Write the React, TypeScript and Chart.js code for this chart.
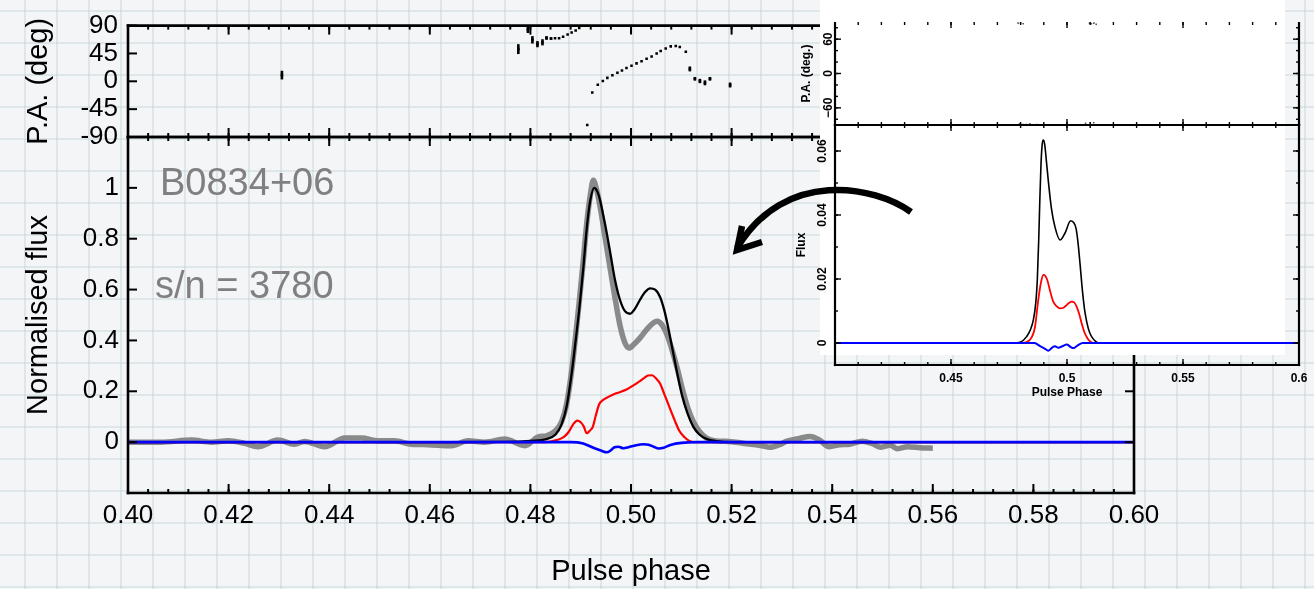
import React, { useEffect, useRef } from "react";
import { Chart, registerables } from "chart.js";

Chart.register(...registerables);

const FONT = '"Liberation Sans", Arial, Helvetica, sans-serif';
const W = 1314;
const H = 589;

// ---------------- main figure: ticks ----------------
const xTicks = [0.4, 0.42, 0.44, 0.46, 0.48, 0.5, 0.52, 0.54, 0.56, 0.58, 0.6];
const xTickLabels = ["0.40", "0.42", "0.44", "0.46", "0.48", "0.50", "0.52", "0.54", "0.56", "0.58", "0.60"];
const fluxTicks = [0, 0.2, 0.4, 0.6, 0.8, 1];
const fluxTickLabels = ["0", "0.2", "0.4", "0.6", "0.8", "1"];
const paTicks = [-90, -45, 0, 45, 90];
const paTickLabels = ["-90", "-45", "0", "45", "90"];

// ---------------- main figure: total intensity (black) ----------------
const iPhase = [0.4, 0.43, 0.46, 0.475, 0.48, 0.4832, 0.485, 0.4862, 0.4872, 0.4882, 0.489, 0.4897, 0.4905, 0.4912, 0.4919, 0.4927, 0.4936, 0.4945, 0.4952, 0.496, 0.4968, 0.4978, 0.4988, 0.4998, 0.5008, 0.5018, 0.5028, 0.5038, 0.5048, 0.5058, 0.5066, 0.5074, 0.5083, 0.5092, 0.5102, 0.5112, 0.5124, 0.5136, 0.515, 0.517, 0.52, 0.56, 0.6];
const iFlux = [0, 0, 0, 0.001, 0.005, 0.012, 0.03, 0.07, 0.14, 0.27, 0.4, 0.52, 0.68, 0.84, 0.95, 1.0, 0.97, 0.89, 0.82, 0.73, 0.64, 0.56, 0.515, 0.505, 0.525, 0.56, 0.59, 0.605, 0.6, 0.57, 0.52, 0.45, 0.36, 0.27, 0.18, 0.115, 0.06, 0.03, 0.013, 0.004, 0, 0, 0];

// ---------------- main figure: second profile (thick grey) ----------------
const gPhase = [0.4, 0.4066, 0.4126, 0.4166, 0.4199, 0.4232, 0.4258, 0.4298, 0.4331, 0.4351, 0.4391, 0.4431, 0.4464, 0.4497, 0.453, 0.4563, 0.4596, 0.4643, 0.4676, 0.4709, 0.4749, 0.4789, 0.4815, 0.4832, 0.485, 0.4862, 0.4872, 0.4882, 0.489, 0.4897, 0.4905, 0.4912, 0.4919, 0.4925, 0.4932, 0.494, 0.4948, 0.4958, 0.4968, 0.4978, 0.4988, 0.4996, 0.5006, 0.5018, 0.503, 0.5042, 0.5052, 0.5062, 0.5072, 0.5082, 0.5092, 0.5102, 0.5112, 0.5124, 0.5136, 0.515, 0.5165, 0.52, 0.523, 0.526, 0.5276, 0.5295, 0.531, 0.5335, 0.5356, 0.5375, 0.5394, 0.5415, 0.5435, 0.546, 0.548, 0.5497, 0.5515, 0.553, 0.555, 0.5575, 0.56];
const gFlux = [0, 0, 0.008, 0, 0.005, -0.005, -0.018, 0.008, -0.008, 0.003, -0.018, 0.016, 0.016, 0.005, 0.005, -0.008, -0.01, -0.014, 0.005, 0, 0.012, -0.014, 0.02, 0.025, 0.045, 0.08, 0.15, 0.28, 0.42, 0.55, 0.71, 0.86, 0.97, 1.03, 0.99, 0.91, 0.81, 0.69, 0.57, 0.46, 0.39, 0.37, 0.385, 0.41, 0.44, 0.465, 0.475, 0.46, 0.42, 0.36, 0.29, 0.21, 0.14, 0.08, 0.042, 0.016, 0.006, 0.002, -0.006, -0.014, -0.02, -0.01, 0.004, 0.015, 0.022, 0.008, -0.018, -0.01, -0.008, 0.004, -0.006, -0.02, -0.012, -0.026, -0.018, -0.022, -0.024];

// ---------------- main figure: linear polarisation (red) ----------------
const lPhase = [0.4, 0.45, 0.483, 0.4852, 0.4866, 0.4876, 0.4885, 0.4893, 0.49, 0.4906, 0.4912, 0.4918, 0.4924, 0.493, 0.4937, 0.4944, 0.4955, 0.4968, 0.498, 0.4992, 0.5004, 0.5016, 0.5026, 0.5034, 0.5042, 0.505, 0.5058, 0.5066, 0.5076, 0.5086, 0.5096, 0.5106, 0.5115, 0.5125, 0.55, 0.6];
const lFlux = [0, 0, 0, 0.008, 0.02, 0.04, 0.07, 0.085, 0.078, 0.062, 0.035, 0.045, 0.06, 0.105, 0.15, 0.165, 0.178, 0.19, 0.198, 0.208, 0.222, 0.238, 0.252, 0.262, 0.263, 0.25, 0.23, 0.19, 0.14, 0.09, 0.045, 0.02, 0.006, 0, 0, 0];

// ---------------- main figure: circular polarisation (blue) ----------------
const vPhase = [0.4, 0.45, 0.488, 0.4905, 0.4925, 0.494, 0.4952, 0.496, 0.4967, 0.4975, 0.4985, 0.4995, 0.501, 0.5025, 0.5035, 0.5045, 0.5055, 0.5065, 0.508, 0.51, 0.513, 0.55, 0.6];
const vFlux = [0, 0, 0, -0.005, -0.022, -0.033, -0.04, -0.032, -0.02, -0.018, -0.024, -0.02, -0.012, -0.008, -0.01, -0.018, -0.025, -0.022, -0.01, -0.003, 0, 0, 0];

// ---------------- main figure: position angle ----------------
const paPhase = [0.4306, 0.4776, 0.4795, 0.4804, 0.4814, 0.4824, 0.4832, 0.4841, 0.4849, 0.4857, 0.4865, 0.4874, 0.4882, 0.489, 0.4897, 0.4913, 0.4923, 0.4934, 0.4944, 0.4953, 0.4963, 0.4973, 0.4982, 0.4991, 0.5001, 0.5011, 0.5021, 0.5031, 0.5041, 0.5051, 0.5059, 0.5069, 0.5079, 0.5089, 0.5097, 0.5109, 0.5117, 0.5127, 0.5137, 0.5147, 0.5157, 0.5197];
const paDeg = [10, 52, 84, 67, 60, 63, 70, 69, 69.5, 69.5, 72, 75.5, 79, 82, 86, -70.5, -18, -5.5, 0.5, 5.5, 9.7, 13.7, 17.3, 21.4, 25, 29, 32.5, 36.6, 40, 45, 49, 53, 56.4, 57, 55.5, 47.8, 20, 4, 0.5, -2.5, 4, -6];
const paErr = [7, 8, 6, 6, 5, 5, 3, 2, 0, 0, 0, 0, 0, 0, 0, 0, 0, 0, 0, 0, 0, 0, 0, 0, 0, 0, 0, 0, 0, 0, 0, 0, 0, 0, 0, 0, 4, 3, 3.5, 4, 3, 4];

// ---------------- inset: ticks ----------------
const insetXTicks = [0.45, 0.5, 0.55, 0.6];
const insetXTickLabels = ["0.45", "0.5", "0.55", "0.6"];
const insetXMajor = [0.4, 0.45, 0.5, 0.55, 0.6];
const insetFluxTicks = [0, 0.02, 0.04, 0.06];
const insetFluxTickLabels = ["0", "0.02", "0.04", "0.06"];
const insetPaTicks = [-60, 0, 60];
const insetPaTickLabels = ["\u221260", "0", "60"];

// ---------------- inset: profiles ----------------
const insetPhaseI = [0.4, 0.47, 0.4769, 0.4826, 0.4855, 0.4866, 0.4872, 0.4878, 0.4883, 0.4888, 0.4893, 0.4898, 0.4904, 0.4911, 0.4919, 0.4933, 0.4948, 0.497, 0.4991, 0.5016, 0.503, 0.5039, 0.5048, 0.5056, 0.5067, 0.5078, 0.5092, 0.5106, 0.5142, 0.55, 0.6];
const insetI = [0, 0, 0, 0.002, 0.0072, 0.013, 0.0197, 0.032, 0.045, 0.056, 0.062, 0.0634, 0.062, 0.057, 0.051, 0.042, 0.0363, 0.0322, 0.0343, 0.0382, 0.0375, 0.0358, 0.031, 0.0249, 0.016, 0.0093, 0.0045, 0.002, 0, 0, 0];
const insetPhaseL = [0.4, 0.48, 0.484, 0.4862, 0.4876, 0.4888, 0.4898, 0.4906, 0.4915, 0.4928, 0.4941, 0.4955, 0.497, 0.4985, 0.4999, 0.501, 0.502, 0.5031, 0.5042, 0.5053, 0.5063, 0.5076, 0.5088, 0.51, 0.5114, 0.55, 0.6];
const insetL = [0, 0, 0.001, 0.005, 0.0134, 0.019, 0.0213, 0.021, 0.0197, 0.016, 0.0129, 0.0115, 0.0108, 0.011, 0.0119, 0.0126, 0.0129, 0.0127, 0.0113, 0.009, 0.0062, 0.0032, 0.0015, 0.0005, 0, 0, 0];
const insetPhaseV = [0.4, 0.486, 0.4884, 0.4905, 0.4919, 0.4935, 0.4948, 0.4963, 0.498, 0.4999, 0.5015, 0.5027, 0.5045, 0.5068, 0.55, 0.6];
const insetV = [0, 0, -0.001, -0.0018, -0.0024, -0.0015, -0.001, -0.0015, -0.001, -0.0005, -0.0012, -0.0016, -0.0008, 0, 0, 0];
const insetPaPhase = [0.4789, 0.48, 0.4811, 0.5097, 0.5105, 0.5116, 0.5126, 0.4795, 0.481, 0.4825, 0.484, 0.487, 0.508, 0.51, 0.5115];
const insetPaDeg = [88, 88, 87, 88, 87, 88, 86, -88, -89, -89, -88, -89, -87, -86, -86];

const pts = (xs: number[], ys: number[]) => xs.map((x, i) => ({ x, y: ys[i] }));

// ---------------- plugins ----------------
const framePlugin: any = {
  id: "frame",
  afterDatasetsDraw(chart: any, _args: any, o: any) {
    if (!o || !o.on) return;
    const { ctx, chartArea: a } = chart;
    const xs = chart.scales.x;
    const ys = chart.scales.y;
    const seg = (x1: number, y1: number, x2: number, y2: number) => {
      ctx.beginPath();
      ctx.moveTo(x1, y1);
      ctx.lineTo(x2, y2);
      ctx.stroke();
    };
    const steps = (min: number, max: number, step: number) => {
      const out: number[] = [];
      if (!step) return out;
      const n0 = Math.ceil(min / step - 1e-6);
      const n1 = Math.floor(max / step + 1e-6);
      for (let n = n0; n <= n1; n++) out.push(n * step);
      return out;
    };
    ctx.save();
    ctx.strokeStyle = "#000";
    ctx.lineCap = "butt";
    ctx.lineWidth = o.tickWidth;
    const tx = (vals: number[], len: number) =>
      vals.forEach((v) => {
        const p = xs.getPixelForValue(v);
        if (o.tickTop) seg(p, a.top, p, a.top + len);
        if (o.tickBottom) seg(p, a.bottom, p, a.bottom - len);
      });
    const ty = (vals: number[], len: number) =>
      vals.forEach((v) => {
        const p = ys.getPixelForValue(v);
        if (o.tickLeft) seg(a.left, p, a.left + len, p);
        if (o.tickRight) seg(a.right, p, a.right - len, p);
      });
    tx(steps(xs.min, xs.max, o.xMinorStep), o.minorLen);
    tx(o.xMajor || [], o.majorLen);
    ty(steps(ys.min, ys.max, o.yMinorStep), o.minorLen);
    ty(o.yMajor || [], o.majorLen);
    ctx.lineWidth = o.borderWidth;
    const h = o.borderWidth / 2;
    if (o.borderTop) seg(a.left - h, a.top, a.right + h, a.top);
    if (o.borderBottom) seg(a.left - h, a.bottom, a.right + h, a.bottom);
    if (o.borderLeft) seg(a.left, a.top - (o.borderTop ? h : 0), a.left, a.bottom + h);
    if (o.borderRight) seg(a.right, a.top - (o.borderTop ? h : 0), a.right, a.bottom + h);
    if (o.rotValues) {
      ctx.fillStyle = "#000";
      ctx.font = o.rotFont;
      ctx.textAlign = "center";
      ctx.textBaseline = "middle";
      o.rotValues.forEach((v: number, i: number) => {
        const p = ys.getPixelForValue(v);
        ctx.save();
        ctx.translate(o.rotX, p);
        ctx.rotate(-Math.PI / 2);
        ctx.fillText(o.rotTexts[i], 0, 0);
        ctx.restore();
      });
    }
    ctx.restore();
  },
};

const errorBarPlugin: any = {
  id: "errbars",
  afterDatasetsDraw(chart: any, _args: any, o: any) {
    if (!o || !o.xs) return;
    const { ctx, chartArea: a } = chart;
    const xs = chart.scales.x;
    const ys = chart.scales.y;
    ctx.save();
    ctx.strokeStyle = "#000";
    ctx.lineWidth = o.width;
    o.xs.forEach((x: number, i: number) => {
      const e = o.errs[i];
      if (!e) return;
      const px = xs.getPixelForValue(x);
      const y1 = Math.max(ys.getPixelForValue(o.ys[i] + e), a.top);
      const y2 = Math.min(ys.getPixelForValue(o.ys[i] - e), a.bottom);
      ctx.beginPath();
      ctx.moveTo(px, y1);
      ctx.lineTo(px, y2);
      ctx.stroke();
    });
    ctx.restore();
  },
};

const tickFont = { family: FONT, size: 26 };
const titleFont = { family: FONT, size: 29 };
const insetFont = { family: FONT, size: 12, weight: "bold" as const };

const baseOpts = {
  responsive: false,
  animation: false as const,
  devicePixelRatio: 1,
  events: [] as any[],
};

function mainPaConfig(): any {
  return {
    type: "scatter",
    data: {
      datasets: [
        {
          data: pts(paPhase, paDeg),
          pointStyle: "rect",
          pointRadius: 1.8,
          backgroundColor: "#000",
          borderWidth: 0,
        },
      ],
    },
    options: {
      ...baseOpts,
      layout: { padding: { top: 19, right: 180, bottom: 452, left: 0 } },
      plugins: {
        legend: { display: false },
        tooltip: { enabled: false },
        errbars: { xs: paPhase, ys: paDeg, errs: paErr, width: 2.6 },
        frame: {
          on: true, tickTop: true, tickBottom: true, tickLeft: true, tickRight: true,
          borderTop: true, borderBottom: true, borderLeft: true, borderRight: true,
          xMajor: xTicks, xMinorStep: 0.004, yMajor: paTicks, yMinorStep: 0,
          majorLen: 9, minorLen: 4, tickWidth: 2, borderWidth: 2.6,
        },
      },
      scales: {
        x: { type: "linear", min: 0.4, max: 0.6, display: false },
        y: {
          type: "linear", min: -90, max: 90,
          afterBuildTicks: (s: any) => { s.ticks = paTicks.map((v) => ({ value: v })); },
          afterFit: (s: any) => { s.width = 128; },
          grid: { display: false, drawTicks: false },
          border: { display: false },
          ticks: { padding: 10, color: "#000", font: tickFont, autoSkip: false, callback: (_v: any, i: number) => paTickLabels[i] },
          title: { display: true, text: "P.A. (deg)", color: "#000", font: titleFont, padding: { top: 22, bottom: 0 } },
        },
      },
    },
    plugins: [errorBarPlugin, framePlugin],
  };
}

function mainFluxConfig(): any {
  const line = (data: any, color: string, width: number, order: number) => ({
    data, borderColor: color, borderWidth: width, pointRadius: 0,
    cubicInterpolationMode: "monotone", fill: false, order,
  });
  return {
    type: "line",
    data: {
      datasets: [
        line(pts(vPhase, vFlux), "#0000ff", 2.6, 0),
        line(pts(lPhase, lFlux), "#ff0000", 2.2, 1),
        line(pts(iPhase, iFlux), "#000000", 2.3, 2),
        line(pts(gPhase, gFlux), "rgba(128,128,128,0.92)", 5.5, 3),
      ],
    },
    options: {
      ...baseOpts,
      layout: { padding: { top: 137, right: 180, bottom: 0, left: 0 } },
      plugins: {
        legend: { display: false },
        tooltip: { enabled: false },
        frame: {
          on: true, tickTop: true, tickBottom: true, tickLeft: true, tickRight: true,
          borderTop: true, borderBottom: true, borderLeft: true, borderRight: true,
          xMajor: xTicks, xMinorStep: 0.004, yMajor: fluxTicks, yMinorStep: 0,
          majorLen: 9, minorLen: 4, tickWidth: 2, borderWidth: 2.6,
        },
      },
      scales: {
        x: {
          type: "linear", min: 0.4, max: 0.6,
          afterBuildTicks: (s: any) => { s.ticks = xTicks.map((v) => ({ value: v })); },
          afterFit: (s: any) => { s.height = 96; },
          grid: { display: false, drawTicks: false },
          border: { display: false },
          ticks: { padding: 7, color: "#000", font: tickFont, maxRotation: 0, autoSkip: false, callback: (_v: any, i: number) => xTickLabels[i] },
          title: { display: true, text: "Pulse phase", color: "#000", font: titleFont, padding: { top: 0, bottom: 0 } },
        },
        y: {
          type: "linear", min: -0.2, max: 1.2,
          afterBuildTicks: (s: any) => { s.ticks = fluxTicks.map((v) => ({ value: v })); },
          afterFit: (s: any) => { s.width = 128; },
          grid: { display: false, drawTicks: false },
          border: { display: false },
          ticks: { padding: 9, color: "#000", font: tickFont, autoSkip: false, callback: (_v: any, i: number) => fluxTickLabels[i] },
          title: { display: true, text: "Normalised flux", color: "#000", font: titleFont, padding: { top: 22, bottom: 0 } },
        },
      },
    },
    plugins: [framePlugin],
  };
}

function insetPaConfig(): any {
  return {
    type: "scatter",
    data: {
      datasets: [
        { data: pts(insetPaPhase, insetPaDeg), pointStyle: "rect", pointRadius: 1.1, backgroundColor: "#555", borderWidth: 0 },
      ],
    },
    options: {
      ...baseOpts,
      layout: { padding: { top: 22, right: 15, bottom: 464, left: 780 } },
      plugins: {
        legend: { display: false },
        tooltip: { enabled: false },
        frame: {
          on: true, tickTop: true, tickBottom: true, tickLeft: true, tickRight: true,
          borderTop: false, borderBottom: true, borderLeft: true, borderRight: true,
          xMajor: insetXMajor, xMinorStep: 0.01, yMajor: insetPaTicks, yMinorStep: 20,
          majorLen: 6, minorLen: 3, tickWidth: 1.4, borderWidth: 2.2,
          rotValues: insetPaTicks, rotTexts: insetPaTickLabels, rotX: 829,
          rotFont: 'bold 12px "Liberation Sans", Arial, sans-serif',
        },
      },
      scales: {
        x: { type: "linear", min: 0.4, max: 0.6, display: false },
        y: {
          type: "linear", min: -90, max: 90,
          afterFit: (s: any) => { s.width = 55; },
          grid: { display: false, drawTicks: false },
          border: { display: false },
          ticks: { display: false },
          title: { display: true, text: "P.A. (deg.)", color: "#000", font: insetFont, padding: { top: 19, bottom: 0 } },
        },
      },
    },
    plugins: [framePlugin],
  };
}

function insetFluxConfig(): any {
  const line = (data: any, color: string, width: number, order: number) => ({
    data, borderColor: color, borderWidth: width, pointRadius: 0,
    cubicInterpolationMode: "monotone", fill: false, order,
  });
  return {
    type: "line",
    data: {
      datasets: [
        line(pts(insetPhaseV, insetV), "#0000ff", 2, 0),
        line(pts(insetPhaseL, insetL), "#ff0000", 1.8, 1),
        line(pts(insetPhaseI, insetI), "#000000", 1.6, 2),
      ],
    },
    options: {
      ...baseOpts,
      layout: { padding: { top: 125, right: 15, bottom: 184, left: 780 } },
      plugins: {
        legend: { display: false },
        tooltip: { enabled: false },
        frame: {
          on: true, tickTop: true, tickBottom: true, tickLeft: true, tickRight: true,
          borderTop: true, borderBottom: true, borderLeft: true, borderRight: true,
          xMajor: insetXMajor, xMinorStep: 0.01, yMajor: insetFluxTicks, yMinorStep: 0.01,
          majorLen: 6, minorLen: 3, tickWidth: 1.4, borderWidth: 2.2,
          rotValues: insetFluxTicks, rotTexts: insetFluxTickLabels, rotX: 823,
          rotFont: 'bold 12px "Liberation Sans", Arial, sans-serif',
        },
      },
      scales: {
        x: {
          type: "linear", min: 0.4, max: 0.6,
          afterBuildTicks: (s: any) => { s.ticks = insetXTicks.map((v) => ({ value: v })); },
          afterFit: (s: any) => { s.height = 40; },
          grid: { display: false, drawTicks: false },
          border: { display: false },
          ticks: { padding: 6, color: "#000", font: insetFont, maxRotation: 0, autoSkip: false, callback: (_v: any, i: number) => insetXTickLabels[i] },
          title: { display: true, text: "Pulse Phase", color: "#000", font: insetFont, padding: { top: 0, bottom: 5 } },
        },
        y: {
          type: "linear", min: -0.006875, max: 0.068125,
          afterFit: (s: any) => { s.width = 55; },
          grid: { display: false, drawTicks: false },
          border: { display: false },
          ticks: { display: false },
          title: { display: true, text: "Flux", color: "#000", font: insetFont, padding: { top: 14, bottom: 0 } },
        },
      },
    },
    plugins: [framePlugin],
  };
}

export default function App() {
  const paRef = useRef<HTMLCanvasElement>(null);
  const fluxRef = useRef<HTMLCanvasElement>(null);
  const iPaRef = useRef<HTMLCanvasElement>(null);
  const iFluxRef = useRef<HTMLCanvasElement>(null);

  useEffect(() => {
    const charts: Chart[] = [];
    charts.push(new Chart(paRef.current as HTMLCanvasElement, mainPaConfig()));
    charts.push(new Chart(fluxRef.current as HTMLCanvasElement, mainFluxConfig()));
    charts.push(new Chart(iPaRef.current as HTMLCanvasElement, insetPaConfig()));
    charts.push(new Chart(iFluxRef.current as HTMLCanvasElement, insetFluxConfig()));
    return () => charts.forEach((c) => c.destroy());
  }, []);

  const layer: React.CSSProperties = { position: "absolute", left: 0, top: 0, width: W, height: H };
  const gridLine = "rgba(186,206,215,0.38)";
  const label: React.CSSProperties = {
    position: "absolute", fontFamily: FONT, fontSize: 38, lineHeight: "38px",
    color: "#808080", whiteSpace: "nowrap",
  };

  return (
    <div
      style={{
        position: "absolute", left: 0, top: 0, width: W, height: H, overflow: "hidden",
        backgroundColor: "#f3f5f6",
        backgroundImage: `linear-gradient(to right, ${gridLine} 0px, ${gridLine} 2px, transparent 2px), linear-gradient(to bottom, ${gridLine} 0px, ${gridLine} 2px, transparent 2px)`,
        backgroundSize: "32px 32px",
        backgroundPosition: "24px 10px",
      }}
    >
      <canvas ref={paRef} width={W} height={H} style={layer} />
      <canvas ref={fluxRef} width={W} height={H} style={layer} />
      <div style={{ ...label, left: 160, top: 163 }}>B0834+06</div>
      <div style={{ ...label, left: 155, top: 266 }}>s/n = 3780</div>
      <div style={{ position: "absolute", left: 820, top: 0, width: 465, height: 355, background: "#ffffff" }} />
      <canvas ref={iPaRef} width={W} height={H} style={layer} />
      <canvas ref={iFluxRef} width={W} height={H} style={layer} />
      <svg width={W} height={H} style={layer}>
        <path d="M 911 212 C 875 186, 785 168, 737 248" fill="none" stroke="#000" strokeWidth={6.5} />
        <polyline points="742,226 737,250 762,242" fill="none" stroke="#000" strokeWidth={6.5} strokeLinejoin="miter" />
      </svg>
    </div>
  );
}
